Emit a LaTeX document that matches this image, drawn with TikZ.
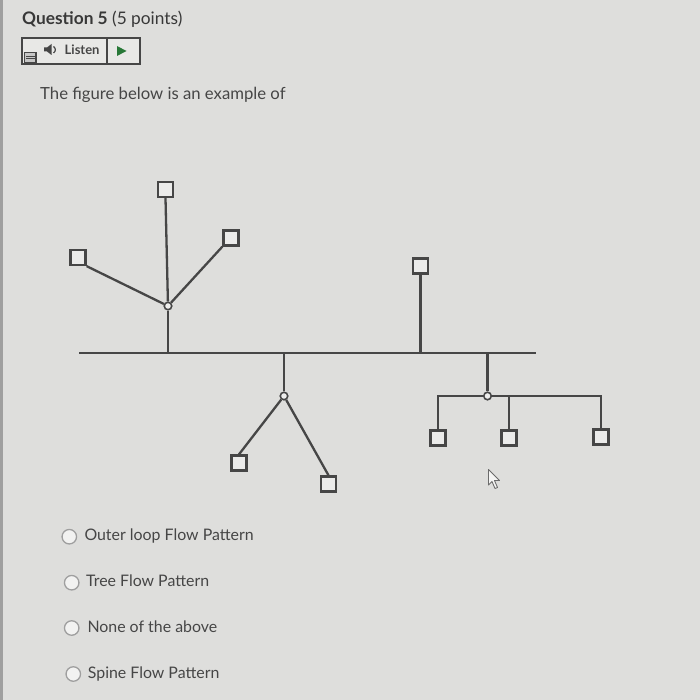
\documentclass[tikz,border=0pt]{standalone}
\usepackage{fontspec}
\setmainfont{Lato}
\definecolor{screen}{RGB}{222,222,220}
\definecolor{ink}{RGB}{70,70,70}
\definecolor{playgreen}{RGB}{40,120,55}

\tikzset{
  box/.style={draw=ink, fill=screen!60!white, line width=2.3pt, minimum size=15pt, inner sep=0pt, rectangle},
  hub/.style={draw=ink, fill=screen!50!white, line width=1.6pt, minimum size=7.5pt, inner sep=0pt, circle},
  wire/.style={draw=ink, line width=2.3pt},
  radio/.style={draw=gray!75, fill=screen!40!white, line width=1.3pt, minimum size=14.5pt, inner sep=0pt, circle},
  txt/.style={anchor=base west, inner sep=0pt, text=ink}
}

\begin{document}
\begin{tikzpicture}[x=1pt,y=-1pt]
  \fill[screen] (0,0) rectangle (700,700);
  \fill[gray!75] (0,0) rectangle (3,700);
  \useasboundingbox (0,0) rectangle (700,700);

  % question header
  \node[txt, text=ink!80!black, font=\fontsize{17.3}{20}\selectfont] (title) at (22,25) {\textbf{Question 5} (5 points)};

  % listen button
  \draw[ink, line width=1.3pt, fill=screen!70!white] (22,38) rectangle (140,64);
  \draw[ink, line width=1.3pt] (107,38) -- (107,64);
  \draw[ink, line width=1.2pt, fill=gray!45] (24.5,52.5) rectangle (36,62.5);
  \draw[ink, line width=0.8pt] (26,56) -- (34.5,56) (26,58.5) -- (34.5,58.5);
  \fill[ink] (44,47.5) -- (47,47.5) -- (51.5,44) -- (51.5,55) -- (47,51.5) -- (44,51.5) -- cycle;
  \draw[ink, line width=1.2pt] (53.5,46.5) .. controls (56,48.5) and (56,51) .. (53.5,53);
  \node[txt, font=\bfseries\fontsize{13}{15}\selectfont] (listen) at (64.5,55) {Listen};
  \fill[playgreen] (117,46) -- (126.5,51) -- (117,56) -- cycle;

  \node[txt, font=\fontsize{16.7}{20}\selectfont] (prompt) at (40,99.3) {The figure below is an example of};

  % diagram
  \coordinate (busL) at (79,353);
  \coordinate (busR) at (536,353);
  \node[box] (b1) at (165.5,189.5) {};
  \node[box] (b2) at (78,257.5) {};
  \node[box] (b3) at (231,238) {};
  \node[hub] (h1) at (168,306) {};
  \node[box] (b4) at (420.5,266) {};
  \node[hub] (h2) at (284,396) {};
  \node[box] (b5) at (239,463) {};
  \node[box] (b6) at (328.5,484) {};
  \node[hub] (h3) at (487.5,396) {};
  \node[box] (b7) at (438,438) {};
  \node[box] (b8) at (509,438) {};
  \node[box] (b9) at (601,437) {};

  \draw[wire] (busL) -- (busR);
  \draw[wire] (h1) -- (h1 |- busL);
  \draw[wire] (h1) -- (b1.south);
  \draw[wire] (h1) -- (b2.south east);
  \draw[wire] (h1) -- (b3.south west);
  \draw[wire] (b4.south) -- (b4.south |- busL);
  \draw[wire] (h2) -- (h2 |- busL);
  \draw[wire] (h2) -- (b5.north);
  \draw[wire] (h2) -- (b6.north);
  \draw[wire] (h3) -- (h3 |- busL);
  \draw[wire] (h3) -| (b7.north);
  \draw[wire] (h3) -| (b8.north);
  \draw[wire] (h3) -| (b9.north);

  % mouse pointer
  \draw[ink!80, fill=screen!30!white, line width=0.9pt, line join=round]
    (488.5,469.5) -- (488.5,485) -- (492,481.5) -- (495,488.5) -- (497.5,487.5) -- (494.5,480.5) -- (499.5,480.5) -- cycle;

  % answers
  \foreach \cx/\cy/\tx/\answer [count=\i] in {
      69.3/536.7/84.3/Outer loop Flow Pattern,
      71.7/582.7/86/Tree Flow Pattern,
      71.7/628/87.3/None of the above,
      73.3/674/87.7/Spine Flow Pattern}{
    \node[radio] (r\i) at (\cx,\cy) {};
    \node[txt, font=\fontsize{15.9}{18}\selectfont] (a\i) at (\tx,\cy+4.2) {\answer};
  }
\end{tikzpicture}
\end{document}
